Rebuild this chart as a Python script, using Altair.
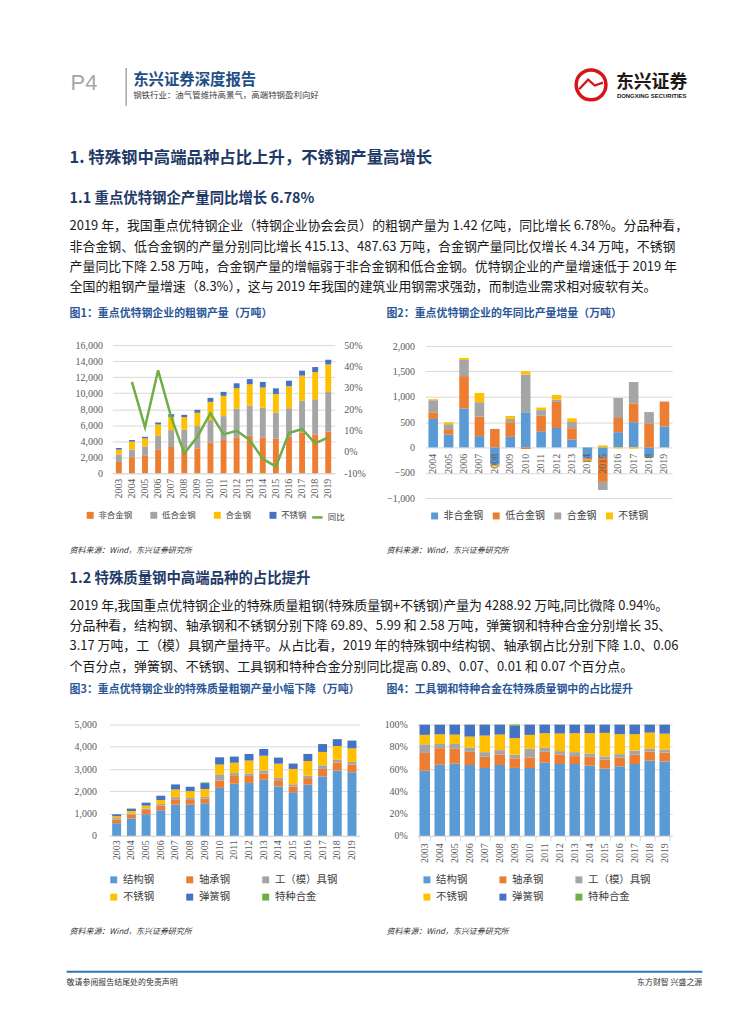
import altair as alt
import pandas as pd

CJK = "Noto Sans CJK SC"
SERIF = "Liberation Serif"
SANS = "Liberation Sans"
W = 739

ORANGE, GRAY, YELLOW, BLUE, LBLUE, GREEN = "#ED7D31", "#A5A5A5", "#FFC000", "#4472C4", "#5B9BD5", "#70AD47"
NAVY = "#1F3A68"
TBLUE = "#2B5797"
RED = "#D7141A"

years = [str(y) for y in range(2003, 2020)]
years2 = years[1:]

# 图1 重点优特钢企业的粗钢产量（万吨）
c1_series = ["非合金钢", "低合金钢", "合金钢", "不锈钢"]
c1_non = [1400, 2000, 2240, 2980, 3275, 3000, 3110, 3810, 4145, 4480, 4680, 4480, 4310, 4560, 5100, 4850, 5220]
c1_low = [900, 950, 1120, 1740, 2110, 2430, 2780, 2820, 2985, 3600, 3730, 3690, 3270, 3560, 3940, 4390, 4930]
c1_alloy = [650, 1000, 990, 1370, 1660, 1575, 1660, 2280, 2530, 2530, 2690, 2530, 2320, 2740, 3150, 3400, 3440]
c1_stain = [200, 200, 200, 250, 330, 290, 370, 500, 500, 620, 660, 700, 700, 700, 620, 620, 580]
c1_yoy = [32.8, 11.5, 38.2, 16.4, -0.7, 7.1, 18.1, 8.2, 9.9, 5.6, -3.3, -6.9, 8.8, 10.7, 4.0, 6.8]

# 图2 年同比产量增量（万吨）
c2_series = ["非合金钢", "低合金钢", "合金钢", "不锈钢"]
c2_non = [562, 255, 770, 223, -330, 209, 692, 319, 384, 158, -210, -190, 300, 497, -190, 415]
c2_low = [130, 105, 638, 384, 365, 288, -30, 306, 514, 221, -30, -490, 280, 370, 464, 488]
c2_alloy = [240, 98, 319, 286, -20, 65, 748, 111, 47, 123, -20, -160, 397, 423, 233, 4]
c2_stain = [20, 39, 39, 182, -30, 58, 65, 52, 91, 72, -25, 40, -20, -25, -20, -3]

# 图3/图4 特殊质量粗钢产量（万吨）
c3_series = ["结构钢", "轴承钢", "工（模）具钢", "不锈钢", "弹簧钢", "特种合金"]
c3_struct = [565, 781, 966, 1147, 1407, 1403, 1462, 2151, 2341, 2375, 2519, 2216, 1959, 2298, 2663, 2937, 2859]
c3_bear = [155, 182, 199, 214, 233, 209, 206, 335, 349, 316, 277, 281, 263, 294, 342, 361, 343]
c3_tool = [75, 46, 65, 70, 97, 86, 79, 275, 128, 110, 140, 105, 94, 110, 161, 117, 116]
c3_stain = [82, 106, 125, 176, 344, 308, 357, 441, 466, 581, 663, 639, 688, 658, 602, 621, 613]
c3_spring = [88, 105, 132, 193, 226, 196, 264, 324, 274, 294, 300, 271, 240, 316, 354, 308, 343]
c3_special = [2, 3, 3, 3, 3, 3, 29, 4, 4, 4, 6, 4, 4, 4, 5, 6, 9]

# texts
header_title = "东兴证券深度报告"
header_sub = "钢铁行业：油气管维持高景气，高端特钢盈利向好"
sec1 = "1. 特殊钢中高端品种占比上升，不锈钢产量高增长"
sec11 = "1.1 重点优特钢企产量同比增长 6.78%"
para1 = [
    "2019 年，我国重点优特钢企业（特钢企业协会会员）的粗钢产量为 1.42 亿吨，同比增长 6.78%。分品种看，",
    "非合金钢、低合金钢的产量分别同比增长 415.13、487.63 万吨，合金钢产量同比仅增长 4.34 万吨，不锈钢",
    "产量同比下降 2.58 万吨，合金钢产量的增幅弱于非合金钢和低合金钢。优特钢企业的产量增速低于 2019 年",
    "全国的粗钢产量增速（8.3%），这与 2019 年我国的建筑业用钢需求强劲，而制造业需求相对疲软有关。",
]
fig1 = "图1：重点优特钢企业的粗钢产量（万吨）"
fig2 = "图2：重点优特钢企业的年同比产量增量（万吨）"
source = "资料来源：Wind，东兴证券研究所"
sec12 = "1.2 特殊质量钢中高端品种的占比提升"
para2 = [
    "2019 年,我国重点优特钢企业的特殊质量粗钢(特殊质量钢+不锈钢)产量为 4288.92 万吨,同比微降 0.94%。",
    "分品种看，结构钢、轴承钢和不锈钢分别下降 69.89、5.99 和 2.58 万吨，弹簧钢和特种合金分别增长 35、",
    "3.17 万吨，工（模）具钢产量持平。从占比看，2019 年的特殊钢中结构钢、轴承钢占比分别下降 1.0、0.06",
    "个百分点，弹簧钢、不锈钢、工具钢和特种合金分别同比提高 0.89、0.07、0.01 和 0.07 个百分点。",
]
fig3 = "图3：重点优特钢企业的特殊质量粗钢产量小幅下降（万吨）"
fig4 = "图4：工具钢和特种合金在特殊质量钢中的占比提升"
foot_left = "敬请参阅报告结尾处的免责声明"
foot_right = "东方财智 兴盛之源"


def long_df(cats, series, cols):
    rows = []
    for k, (name, vals) in enumerate(zip(series, cols)):
        for c, v in zip(cats, vals):
            rows.append({"year": c, "s": name, "v": v, "k": k})
    return pd.DataFrame(rows)


def T(text, x, y, size, color="#1a1a1a", weight="normal", font=CJK, align="left", style="normal"):
    return alt.Chart(pd.DataFrame({"t": [text]})).mark_text(
        align=align, baseline="middle", font=font, fontSize=size, fontWeight=weight,
        fontStyle=style, color=color
    ).encode(x=alt.value(x), y=alt.value(y), text="t:N")


def ax(**kw):
    base = dict(labelFont=SERIF, labelFontSize=10, labelColor="#595959", title=None,
                ticks=False, domain=False, grid=False)
    base.update(kw)
    return alt.Axis(**base)


def leg(x, y, cols, size, colpad, rowpad=4, stype="square"):
    return alt.Legend(orient="none", legendX=x, legendY=y, direction="horizontal", columns=cols,
                      title=None, symbolType=stype, symbolSize=49, symbolStrokeWidth=0,
                      labelFont=CJK, labelFontSize=size, labelColor="#404040", labelOffset=4,
                      columnPadding=colpad, rowPadding=rowpad, padding=0)


# ---------------- Row A: header + section 1.1 text ----------------
one = pd.DataFrame({"a": [0]})
rowA_items = [
    T("P4", 58, 72, 22, color="#A6A6A6", font=SANS),
    alt.Chart(one).mark_rule(color="#A6A6A6", strokeWidth=1.5).encode(
        x=alt.value(114), y=alt.value(57), y2=alt.value(95)),
    T(header_title, 121, 69, 15.5, color="#1F4E85", weight="bold"),
    T(header_sub, 121, 84.5, 8.5, color="#404040"),
    alt.Chart(one).mark_point(shape="circle", size=900, filled=False, strokeWidth=3.5,
                              color=RED, opacity=1).encode(x=alt.value(582), y=alt.value(74)),
    alt.Chart(one).mark_point(shape="M-0.8,0.3L-0.2,-0.35L0.25,0.05L0.8,-0.15", size=900,
                              filled=False, strokeWidth=2.2, color=RED, opacity=1).encode(
        x=alt.value(582), y=alt.value(74)),
    T("东兴证券", 607, 72, 18, color="#231815", weight="bold"),
    T("DONGXING SECURITIES", 608, 85.5, 6, color="#231815", weight="bold", font=SANS),
    T(sec1, 57, 148, 16.5, color=NAVY, weight="bold"),
    T(sec11, 57, 189, 14.5, color=NAVY, weight="bold"),
    T(fig1, 57, 305, 11, color=TBLUE, weight="bold"),
    T(fig2, 376, 305, 11, color=TBLUE, weight="bold"),
]
for i, line in enumerate(para1):
    rowA_items.append(T(line, 57, 216.5 + 20.5 * i, 13))
rowA = alt.layer(*rowA_items).properties(width=W, height=336)

# ---------------- Row B: 图1 + 图2 ----------------
df1 = long_df(years, c1_series, [c1_non, c1_low, c1_alloy, c1_stain])
dfl = pd.DataFrame({"year": years2, "yoy": c1_yoy, "s": ["同比"] * len(years2)})
df2 = long_df(years2, c2_series, [c2_non, c2_low, c2_alloy, c2_stain])

x1_scale = dict(type="band", domain=years, range=[100, 324], paddingInner=0.55, paddingOuter=0.275)
bars1 = alt.Chart(df1).mark_bar().encode(
    x=alt.X("year:N", scale=alt.Scale(**x1_scale),
            axis=ax(orient="bottom", offset=-25, labelAngle=-90, labelPadding=5,
                    domain=True, domainColor="#D9D9D9")),
    y=alt.Y("v:Q", stack="zero", scale=alt.Scale(domain=[0, 16000], range=[129, 0], nice=False),
            axis=ax(orient="left", offset=-100, values=list(range(0, 16001, 2000)), format=",.0f",
                    grid=True, gridColor="#D9D9D9", labelPadding=10)),
    color=alt.Color("s:N", scale=alt.Scale(domain=c1_series, range=[ORANGE, GRAY, YELLOW, BLUE]),
                    legend=leg(73.5, 167, 4, 8.5, 17)),
    order=alt.Order("k:Q", sort="ascending"),
)
line1 = alt.Chart(dfl).mark_line(strokeWidth=2.5).encode(
    x=alt.X("year:N", scale=alt.Scale(**x1_scale), axis=None),
    y=alt.Y("yoy:Q", scale=alt.Scale(domain=[-10, 50], range=[129, 0], nice=False),
            axis=ax(orient="right", offset=-415, values=[-10, 0, 10, 20, 30, 40, 50],
                    labelExpr="datum.value + '%'", labelPadding=9)),
    stroke=alt.Stroke("s:N", scale=alt.Scale(domain=["同比"], range=[GREEN]),
                      legend=alt.Legend(orient="none", legendX=300, legendY=167, title=None,
                                        symbolType="stroke", symbolSize=110, symbolStrokeWidth=2.5,
                                        labelFont=CJK, labelFontSize=8.5, labelColor="#404040",
                                        labelOffset=4, padding=0)),
)
bars2 = alt.Chart(df2).mark_bar().encode(
    x=alt.X("year:N", scale=alt.Scale(type="band", domain=years2, range=[415.3, 663.7],
                                      paddingInner=0.38, paddingOuter=0.19),
            axis=ax(orient="bottom", offset=-51, labelAngle=-90, labelPadding=6, zindex=1)),
    y=alt.Y("v:Q", stack="zero", scale=alt.Scale(domain=[-1000, 2000], range=[154, 1], nice=False),
            axis=ax(orient="left", offset=-415.3, values=list(range(-1000, 2001, 500)), format=",.0f",
                    grid=True, gridColor="#D9D9D9", labelPadding=11)),
    color=alt.Color("s:N", scale=alt.Scale(domain=c2_series, range=[LBLUE, ORANGE, GRAY, YELLOW]),
                    legend=leg(419.5, 167, 4, 10, 8)),
    order=alt.Order("k:Q", sort="ascending"),
)
rowB = alt.layer(bars1, line1, bars2).resolve_scale(
    x="independent", y="independent", color="independent", stroke="independent"
).properties(width=W, height=154)

# ---------------- Row C: sources + section 1.2 ----------------
rowC_items = [
    T(source, 57, 53, 8, color="#333333", style="italic"),
    T(source, 376, 53, 8, color="#333333", style="italic"),
    T(sec12, 57, 82, 14.5, color=NAVY, weight="bold"),
    T(fig3, 57, 193, 11, color=TBLUE, weight="bold"),
    T(fig4, 376, 193, 11, color=TBLUE, weight="bold"),
]
for i, line in enumerate(para2):
    rowC_items.append(T(line, 57, 108.25 + 20.5 * i, 13))
rowC = alt.layer(*rowC_items).properties(width=W, height=228)

# ---------------- Row D: 图3 + 图4 ----------------
df3 = long_df(years, c3_series, [c3_struct, c3_bear, c3_tool, c3_stain, c3_spring, c3_special])
c3_colors = [LBLUE, ORANGE, GRAY, YELLOW, BLUE, GREEN]

bars3 = alt.Chart(df3).mark_bar().encode(
    x=alt.X("year:N", scale=alt.Scale(type="band", domain=years, range=[97, 348.7],
                                      paddingInner=0.39, paddingOuter=0.195),
            axis=ax(orient="bottom", labelAngle=-90, labelPadding=4,
                    domain=True, domainColor="#D9D9D9")),
    y=alt.Y("v:Q", stack="zero", scale=alt.Scale(domain=[0, 5000], range=[112, 0], nice=False),
            axis=ax(orient="left", offset=-97, values=list(range(0, 5001, 1000)), format=",.0f",
                    grid=True, gridColor="#D9D9D9", labelPadding=13)),
    color=alt.Color("s:N", scale=alt.Scale(domain=c3_series, range=c3_colors),
                    legend=leg(96.2, 151, 3, 10.5, 30.5, rowpad=6.5)),
    order=alt.Order("k:Q", sort="ascending"),
)
bars4 = alt.Chart(df3).mark_bar().encode(
    x=alt.X("year:N", scale=alt.Scale(type="band", domain=years, range=[407, 663.7],
                                      paddingInner=0.3, paddingOuter=0.15),
            axis=ax(orient="bottom", labelAngle=-90, labelPadding=2, ticks=True, tickBand="extent",
                    tickSize=5, tickColor="#D9D9D9", domain=True, domainColor="#D9D9D9")),
    y=alt.Y("v:Q", stack="normalize", scale=alt.Scale(domain=[0, 1], range=[112, 0], nice=False),
            axis=ax(orient="left", offset=-407, values=[0, 0.2, 0.4, 0.6, 0.8, 1.0], format=".0%",
                    grid=True, gridColor="#D9D9D9", labelPadding=10)),
    color=alt.Color("s:N", scale=alt.Scale(domain=c3_series, range=c3_colors),
                    legend=leg(411.5, 151, 3, 10.5, 30.5, rowpad=6.5)),
    order=alt.Order("k:Q", sort="ascending"),
)
rowD = alt.layer(bars3, bars4).resolve_scale(
    x="independent", y="independent", color="independent"
).properties(width=W, height=112)

# ---------------- Row E: sources + footer ----------------
rowE = alt.layer(
    T(source, 57, 97, 8, color="#333333", style="italic"),
    T(source, 376, 97, 8, color="#333333", style="italic"),
    alt.Chart(one).mark_rule(color="#2E75B6", strokeWidth=2).encode(
        x=alt.value(54), x2=alt.value(694), y=alt.value(137)),
    T(foot_left, 54, 148, 8, color="#333333"),
    T(foot_right, 694, 148, 8, color="#333333", align="right"),
).properties(width=W, height=170)

chart = alt.vconcat(rowA, rowB, rowC, rowD, rowE, spacing=0, bounds="flush").resolve_scale(
    color="independent", stroke="independent", x="independent", y="independent"
).configure(background="white").configure_view(stroke=None).properties(padding=0)

chart.save("out.html", embed_options={"renderer": "svg", "actions": False})
